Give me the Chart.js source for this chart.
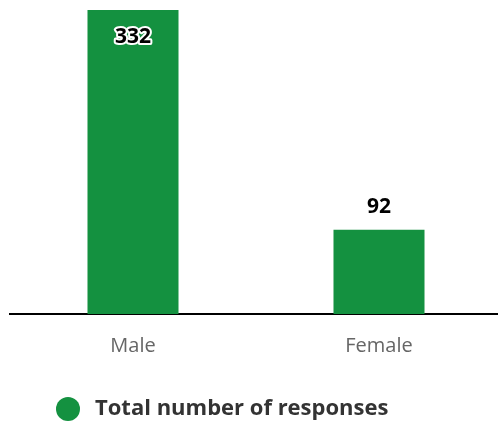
<!DOCTYPE html>
<html>
<head>
<meta charset="utf-8">
<script src="https://cdn.jsdelivr.net/npm/chart.js@4/dist/chart.umd.min.js"></script>
<style>
  html, body { margin: 0; padding: 0; background: #fff; overflow: hidden; }
  #wrap { position: relative; width: 502px; height: 424px; }
</style>
</head>
<body>
<div id="wrap"><canvas id="c"></canvas></div>
<script>
const categories = ["Male", "Female"];
const seriesName = "Total number of responses";
const responses = [332, 92];

const FONT = "'Open Sans', Lato, sans-serif";
const GREEN = "rgb(20,145,64)";

// legend marker image (circle, offset to the right inside a wider transparent box)
const dot = document.createElement('canvas');
dot.width = 46; dot.height = 24;
(function(){
  const g = dot.getContext('2d');
  g.fillStyle = GREEN;
  g.beginPath(); g.arc(34, 12, 12, 0, Math.PI * 2); g.fill();
})();

const valueLabels = {
  id: 'valueLabels',
  afterDatasetsDraw(chart) {
    const ctx = chart.ctx;
    const area = chart.chartArea;
    chart.data.datasets.forEach((ds, di) => {
      const meta = chart.getDatasetMeta(di);
      meta.data.forEach((bar, i) => {
        const v = ds.data[i];
        let y = bar.y - 23;
        if (y - 12 < area.top) y = bar.y + 27;
        ctx.save();
        ctx.font = "bold 21px " + FONT;
        ctx.textAlign = 'center';
        ctx.textBaseline = 'middle';
        ctx.lineJoin = 'round';
        ctx.strokeStyle = '#fff';
        ctx.lineWidth = 4;
        ctx.strokeText(String(v), bar.x, y);
        ctx.fillStyle = '#000';
        ctx.fillText(String(v), bar.x, y);
        ctx.restore();
      });
    });
  }
};

new Chart(document.getElementById('c'), {
  type: 'bar',
  data: {
    labels: categories,
    datasets: [{
      label: seriesName,
      data: responses,
      backgroundColor: GREEN,
      borderWidth: 0,
      barPercentage: 0.37,
      categoryPercentage: 1.0
    }]
  },
  options: {
    responsive: true,
    maintainAspectRatio: false,
    animation: false,
    layout: { padding: { top: 10, left: 10, right: 0, bottom: -6 } },
    scales: {
      x: {
        grid: { display: false, drawTicks: false, tickLength: 0 },
        border: { display: true, color: '#000', width: 2 },
        ticks: { color: '#666', font: { family: FONT, size: 20 }, padding: 20 }
      },
      y: { display: false, min: 0, max: 332 }
    },
    plugins: {
      tooltip: { enabled: false },
      legend: {
        position: 'bottom',
        align: 'start',
        labels: {
          usePointStyle: true,
          pointStyle: dot,
          pointStyleWidth: 54,
          padding: 20,
          color: '#333',
          font: { family: FONT, size: 22, weight: 'bold' }
        }
      }
    }
  },
  plugins: [valueLabels]
});
</script>
</body>
</html>
